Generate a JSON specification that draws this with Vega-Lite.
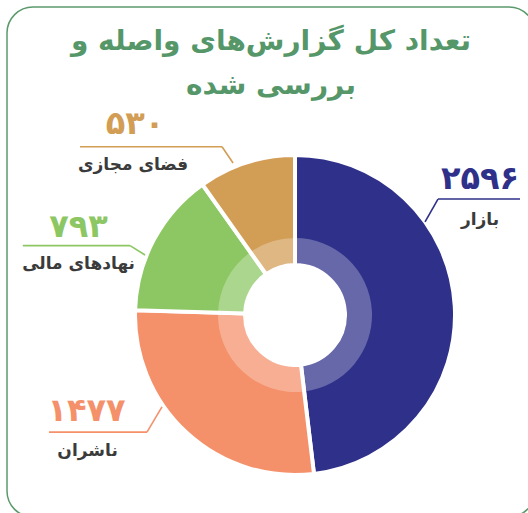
{
  "$schema": "https://vega.github.io/schema/vega-lite/v6.json",
  "width": 528,
  "height": 510,
  "autosize": {"type": "none"},
  "padding": {"left": 7, "top": 7, "right": 0, "bottom": 0},
  "background": "white",
  "title": {
    "text": ["تعداد کل گزارش‌های واصله و", "بررسی شده"],
    "anchor": "middle",
    "frame": "group",
    "offset": -93,
    "font": "DejaVu Sans",
    "fontSize": 28,
    "fontWeight": "bold",
    "color": "#56976a",
    "lineHeight": 44
  },
  "data": {
    "values": [
      {"name": "بازار", "value": 2596, "rank": 1},
      {"name": "ناشران", "value": 1477, "rank": 2},
      {"name": "نهادهای مالی", "value": 793, "rank": 3},
      {"name": "فضای مجازی", "value": 530, "rank": 4}
    ]
  },
  "layer": [
    {
      "mark": {"type": "arc", "radius": 160, "radius2": 50, "stroke": "white", "strokeWidth": 4},
      "encoding": {
        "x": {"datum": 0, "type": "quantitative", "scale": {"domain": [-182.3, 151.9], "nice": false, "zero": false}, "axis": null},
        "y": {"datum": 0, "type": "quantitative", "scale": {"domain": [-127.85, 194.95], "nice": false, "zero": false}, "axis": null},
        "theta": {"field": "value", "type": "quantitative", "stack": true},
        "order": {"field": "rank", "type": "quantitative"},
        "color": {
          "field": "name",
          "type": "nominal",
          "scale": {
            "domain": ["بازار", "ناشران", "نهادهای مالی", "فضای مجازی"],
            "range": ["#2e3089", "#f4916a", "#8dc763", "#d29d55"]
          },
          "legend": null
        }
      }
    },
    {
      "mark": {"type": "arc", "radius": 77, "radius2": 52, "fill": "white", "fillOpacity": 0.27},
      "encoding": {
        "x": {"datum": 0, "type": "quantitative"},
        "y": {"datum": 0, "type": "quantitative"},
        "theta": {"field": "value", "type": "quantitative", "stack": true},
        "order": {"field": "rank", "type": "quantitative"}
      }
    },
    {
      "transform": [{"filter": "datum.name === 'بازار'"}],
      "layer": [
        {"mark": {"type": "rule", "strokeWidth": 1.6}, "encoding": {"x": {"datum": 90.5, "type": "quantitative"}, "x2": {"datum": 142.4}, "y": {"datum": 73.4, "type": "quantitative"}, "y2": {"datum": 73.4}, "color": {"field": "name", "type": "nominal"}}},
        {"mark": {"type": "rule", "strokeWidth": 1.6}, "encoding": {"x": {"datum": 90.5, "type": "quantitative"}, "x2": {"datum": 82.3}, "y": {"datum": 73.4, "type": "quantitative"}, "y2": {"datum": 58.9}, "color": {"field": "name", "type": "nominal"}}},
        {"mark": {"type": "text", "font": "DejaVu Sans", "fontSize": 32, "fontWeight": "bold", "align": "center", "baseline": "middle"}, "encoding": {"x": {"datum": 117.1, "type": "quantitative"}, "y": {"datum": 86.1, "type": "quantitative"}, "text": {"field": "value", "type": "quantitative", "format": "d"}, "color": {"field": "name", "type": "nominal"}}},
        {"mark": {"type": "text", "font": "DejaVu Sans", "fontSize": 17, "fontWeight": "bold", "align": "center", "baseline": "middle", "color": "#3b3b3b"}, "encoding": {"x": {"datum": 117.1, "type": "quantitative"}, "y": {"datum": 60.1, "type": "quantitative"}, "text": {"field": "name", "type": "nominal"}}}
      ]
    },
    {
      "transform": [{"filter": "datum.name === 'ناشران'"}],
      "layer": [
        {"mark": {"type": "rule", "strokeWidth": 1.6}, "encoding": {"x": {"datum": -155.7, "type": "quantitative"}, "x2": {"datum": -93.7}, "y": {"datum": -74.1, "type": "quantitative"}, "y2": {"datum": -74.1}, "color": {"field": "name", "type": "nominal"}}},
        {"mark": {"type": "rule", "strokeWidth": 1.6}, "encoding": {"x": {"datum": -93.7, "type": "quantitative"}, "x2": {"datum": -84.2}, "y": {"datum": -74.1, "type": "quantitative"}, "y2": {"datum": -58.2}, "color": {"field": "name", "type": "nominal"}}},
        {"mark": {"type": "text", "font": "DejaVu Sans", "fontSize": 32, "fontWeight": "bold", "align": "center", "baseline": "middle"}, "encoding": {"x": {"datum": -132.0, "type": "quantitative"}, "y": {"datum": -60.8, "type": "quantitative"}, "text": {"field": "value", "type": "quantitative", "format": "d"}, "color": {"field": "name", "type": "nominal"}}},
        {"mark": {"type": "text", "font": "DejaVu Sans", "fontSize": 17, "fontWeight": "bold", "align": "center", "baseline": "middle", "color": "#3b3b3b"}, "encoding": {"x": {"datum": -131.3, "type": "quantitative"}, "y": {"datum": -86.1, "type": "quantitative"}, "text": {"field": "name", "type": "nominal"}}}
      ]
    },
    {
      "transform": [{"filter": "datum.name === 'نهادهای مالی'"}],
      "layer": [
        {"mark": {"type": "rule", "strokeWidth": 1.6}, "encoding": {"x": {"datum": -172.3, "type": "quantitative"}, "x2": {"datum": -104.4}, "y": {"datum": 43.9, "type": "quantitative"}, "y2": {"datum": 43.9}, "color": {"field": "name", "type": "nominal"}}},
        {"mark": {"type": "rule", "strokeWidth": 1.6}, "encoding": {"x": {"datum": -104.4, "type": "quantitative"}, "x2": {"datum": -94.9}, "y": {"datum": 43.9, "type": "quantitative"}, "y2": {"datum": 38.0}, "color": {"field": "name", "type": "nominal"}}},
        {"mark": {"type": "text", "font": "DejaVu Sans", "fontSize": 32, "fontWeight": "bold", "align": "center", "baseline": "middle"}, "encoding": {"x": {"datum": -137.0, "type": "quantitative"}, "y": {"datum": 55.7, "type": "quantitative"}, "text": {"field": "value", "type": "quantitative", "format": "d"}, "color": {"field": "name", "type": "nominal"}}},
        {"mark": {"type": "text", "font": "DejaVu Sans", "fontSize": 17, "fontWeight": "bold", "align": "center", "baseline": "middle", "color": "#3b3b3b"}, "encoding": {"x": {"datum": -137.0, "type": "quantitative"}, "y": {"datum": 32.3, "type": "quantitative"}, "text": {"field": "name", "type": "nominal"}}}
      ]
    },
    {
      "transform": [{"filter": "datum.name === 'فضای مجازی'"}],
      "layer": [
        {"mark": {"type": "rule", "strokeWidth": 1.6}, "encoding": {"x": {"datum": -136.1, "type": "quantitative"}, "x2": {"datum": -46.2}, "y": {"datum": 106.5, "type": "quantitative"}, "y2": {"datum": 106.5}, "color": {"field": "name", "type": "nominal"}}},
        {"mark": {"type": "rule", "strokeWidth": 1.6}, "encoding": {"x": {"datum": -46.2, "type": "quantitative"}, "x2": {"datum": -39.2}, "y": {"datum": 106.5, "type": "quantitative"}, "y2": {"datum": 96.2}, "color": {"field": "name", "type": "nominal"}}},
        {"mark": {"type": "text", "font": "DejaVu Sans", "fontSize": 32, "fontWeight": "bold", "align": "center", "baseline": "middle"}, "encoding": {"x": {"datum": -101.3, "type": "quantitative"}, "y": {"datum": 120.9, "type": "quantitative"}, "text": {"field": "value", "type": "quantitative", "format": "d"}, "color": {"field": "name", "type": "nominal"}}},
        {"mark": {"type": "text", "font": "DejaVu Sans", "fontSize": 17, "fontWeight": "bold", "align": "center", "baseline": "middle", "color": "#3b3b3b"}, "encoding": {"x": {"datum": -102.5, "type": "quantitative"}, "y": {"datum": 94.9, "type": "quantitative"}, "text": {"field": "name", "type": "nominal"}}}
      ]
    }
  ],
  "config": {
    "view": {"stroke": "#5b9a6c", "strokeWidth": 1.5, "cornerRadius": 26},
    "locale": {
      "number": {
        "decimal": "٫",
        "thousands": "٬",
        "grouping": [3],
        "currency": ["", ""],
        "numerals": ["۰", "۱", "۲", "۳", "۴", "۵", "۶", "۷", "۸", "۹"]
      }
    }
  }
}
